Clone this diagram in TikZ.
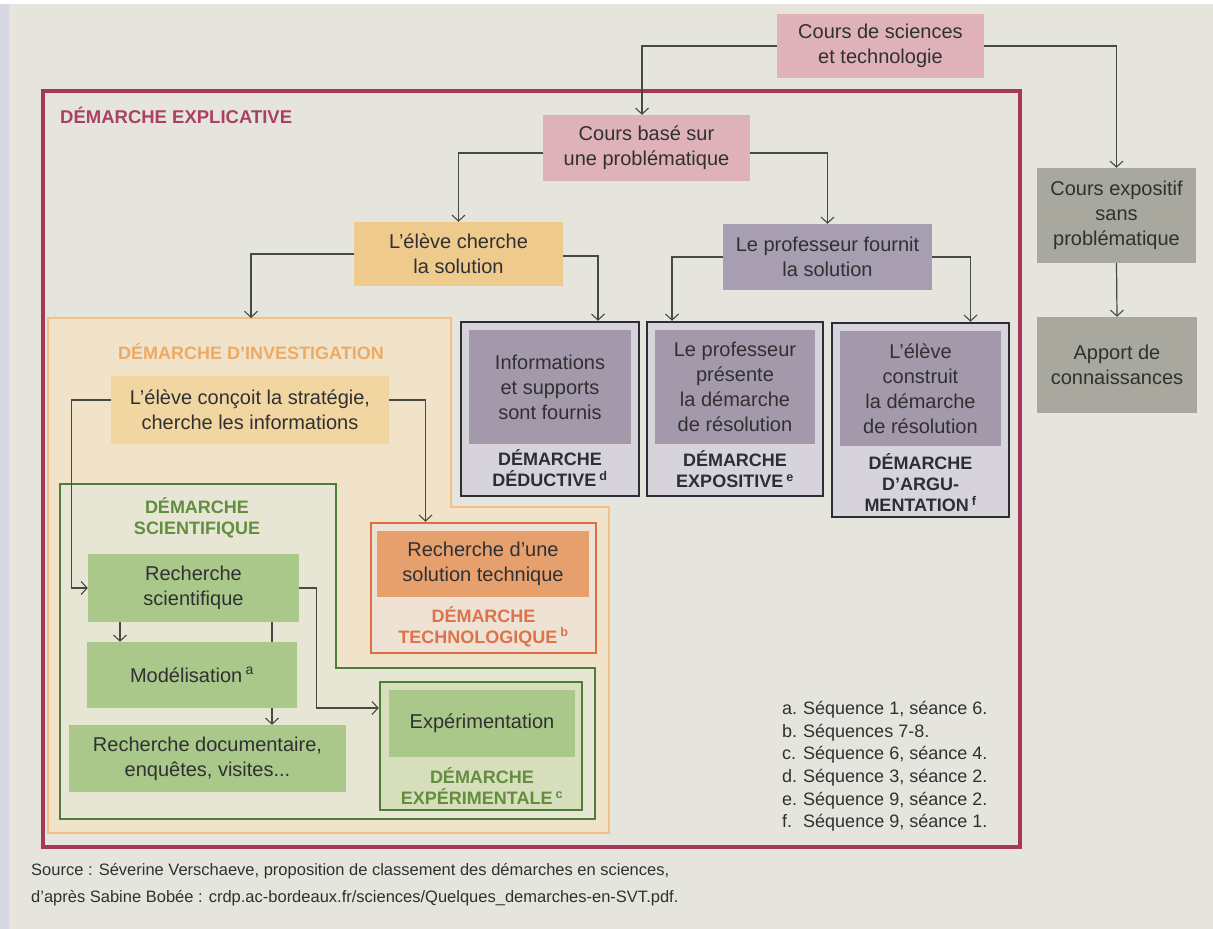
\documentclass[tikz,border=0pt]{standalone}
\usepackage{fontspec}
\setmainfont{Liberation Sans}
\usetikzlibrary{arrows.meta}
\definecolor{paper}{RGB}{230,229,221}
\definecolor{leftstrip}{RGB}{214,217,228}
\definecolor{crimson}{RGB}{165,55,90}
\definecolor{crimsontxt}{RGB}{170,65,100}
\definecolor{pinkbox}{RGB}{222,178,184}
\definecolor{graybox}{RGB}{168,168,158}
\definecolor{yellbox}{RGB}{238,202,140}
\definecolor{yellbox2}{RGB}{242,214,162}
\definecolor{invfill}{RGB}{241,227,202}
\definecolor{invline}{RGB}{242,192,132}
\definecolor{invtxt}{RGB}{236,170,100}
\definecolor{purpbox}{RGB}{163,153,170}
\definecolor{purpbox2}{RGB}{168,158,178}
\definecolor{lavfill}{RGB}{214,211,218}
\definecolor{darkline}{RGB}{45,45,55}
\definecolor{greenbox}{RGB}{170,200,138}
\definecolor{greenline}{RGB}{78,125,55}
\definecolor{greentxt}{RGB}{98,142,62}
\definecolor{scifill}{RGB}{231,230,213}
\definecolor{expfill}{RGB}{215,222,188}
\definecolor{techline}{RGB}{222,110,70}
\definecolor{techfill}{RGB}{238,226,212}
\definecolor{techbox}{RGB}{230,160,110}
\definecolor{techtxt}{RGB}{222,115,75}
\definecolor{txt}{RGB}{48,48,50}
\definecolor{linec}{RGB}{72,72,68}
\newcommand\bxfont{\fontsize{20}{25}\selectfont}
\newcommand\lblfont{\bfseries\fontsize{18}{21}\selectfont}
\newcommand\sups[1]{\,\textsuperscript{#1}}
\tikzset{
  arr/.style={draw=linec, line width=1.2pt, -{Straight Barb[length=6pt,width=13pt,line width=1.1pt]}},
  bx/.style={rectangle, inner sep=0pt, align=center, text=txt, font=\bxfont},
  lbl/.style={inner sep=0pt, align=center, font=\lblfont},
  outerbox/.style={rectangle, inner sep=0pt, draw=darkline, line width=2.5pt, fill=lavfill},
}
\begin{document}
\begin{tikzpicture}[x=1pt,y=-1pt]
\useasboundingbox (0,0) rectangle (1213,929);
\fill[paper] (0,0) rectangle (1213,929);
\fill[leftstrip] (0,0) rectangle (9,929);
\fill[white] (0,0) rectangle (1213,4);

% main explicative frame
\draw[crimson, line width=4pt] (43,91) rectangle (1020,847);
\node[anchor=west, lbl, text=crimsontxt, font=\bfseries\fontsize{18.5}{21}\selectfont] (explic) at (60,115) {DÉMARCHE EXPLICATIVE};

% investigation frame (L-shape)
\draw[invline, fill=invfill, line width=2pt] (48,318) -- (451,318) -- (451,507) -- (609,507) -- (609,833) -- (48,833) -- cycle;
\node[lbl, text=invtxt] (invlbl) at (251,352) {DÉMARCHE D'INVESTIGATION};
\coordinate (invtop) at (251,318);

% scientific frame (L-shape)
\draw[greenline, fill=scifill, line width=2.5pt] (60,484) -- (336,484) -- (336,668) -- (595,668) -- (595,819) -- (60,819) -- cycle;
\node[lbl, text=greentxt] (scilbl) at (197,517.5) {DÉMARCHE\\SCIENTIFIQUE};

% top boxes
\node[bx, fill=pinkbox, minimum width=207pt, minimum height=64pt] (top) at (880.5,46) {Cours de sciences\\et technologie};
\node[bx, fill=pinkbox, minimum width=207pt, minimum height=66pt] (cb) at (646.5,148) {Cours basé sur\\une problématique};
\node[bx, fill=graybox, minimum width=159pt, minimum height=95pt] (ce) at (1116.5,215.5) {Cours expositif\\sans\\problématique};
\node[bx, fill=graybox, minimum width=160pt, minimum height=96pt] (ap) at (1117,365) {Apport de\\connaissances};
\node[bx, fill=yellbox, minimum width=209pt, minimum height=64pt] (ec) at (458.5,254) {L'élève cherche\\la solution};
\node[bx, fill=purpbox2, minimum width=209pt, minimum height=66pt] (pf) at (827.5,257) {Le professeur fournit\\la solution};

% three demarche boxes
\node[outerbox, minimum width=178pt, minimum height=174pt] (ded) at (550,409) {};
\node[bx, fill=purpbox, minimum width=162pt, minimum height=114pt] (dedi) at (550,387) {Informations\\et supports\\sont fournis};
\node[lbl, text=darkline] (dedl) at (550,468.5) {DÉMARCHE\\DÉDUCTIVE\sups{d}};

\node[outerbox, minimum width=176pt, minimum height=174pt] (expo) at (735,409) {};
\node[bx, fill=purpbox, minimum width=160pt, minimum height=114pt] (expoi) at (735,387) {Le professeur\\présente\\la démarche\\de résolution};
\node[lbl, text=darkline] (expol) at (735,469.5) {DÉMARCHE\\EXPOSITIVE\sups{e}};

\node[outerbox, minimum width=177pt, minimum height=194pt] (arg) at (920.5,420) {};
\node[bx, fill=purpbox, minimum width=161pt, minimum height=115pt] (argi) at (920.5,388.5) {L'élève\\construit\\la démarche\\de résolution};
\node[lbl, text=darkline] (argl) at (920.5,482.5) {DÉMARCHE\\D'ARGU-\\MENTATION\sups{f}};

% investigation content
\node[bx, fill=yellbox2, minimum width=278pt, minimum height=68pt] (co) at (250,410) {L'élève conçoit la stratégie,\\cherche les informations};

% techno frame
\node[rectangle, inner sep=0pt, draw=techline, line width=2.5pt, fill=techfill, minimum width=225pt, minimum height=130pt] (tf) at (483.5,588) {};
\node[bx, fill=techbox, minimum width=212pt, minimum height=66pt] (tfi) at (483,564) {Recherche d'une\\solution technique};
\node[lbl, text=techtxt] (tfl) at (483.5,626.5) {DÉMARCHE\\TECHNOLOGIQUE\sups{b}};

% experimental frame
\node[rectangle, inner sep=0pt, draw=greenline, line width=2.5pt, fill=expfill, minimum width=202pt, minimum height=128pt] (exf) at (481,746) {};
\node[bx, fill=greenbox, minimum width=186pt, minimum height=67pt] (exi) at (482,723.5) {Expérimentation};
\node[lbl, text=greentxt] (exl) at (482,786) {DÉMARCHE\\EXPÉRIMENTALE\sups{c}};

% scientific content
\node[bx, fill=greenbox, minimum width=211pt, minimum height=68pt] (rs) at (193.5,588) {Recherche\\scientifique};
\node[bx, fill=greenbox, minimum width=277pt, minimum height=67pt] (rd) at (207.5,758.5) {Recherche documentaire,\\enquêtes, visites...};
\draw[arr] ([xshift=78.5pt]rs.south) -- ([xshift=78.5pt]rs.south |- rd.north);
\node[bx, fill=greenbox, minimum width=210pt, minimum height=66pt] (mo) at (192,675) {Modélisation\sups{a}};
\draw[arr] ([xshift=-73.5pt]rs.south) -- ([xshift=-73.5pt]rs.south |- mo.north);

% connectors
\draw[arr] (top.west) -| ([xshift=-4.5pt]cb.north);
\draw[arr] (top.east) -| (ce.north);
\draw[arr] (ce.south) -- (ap.north);
\draw[arr] ([yshift=-5pt]cb.west) -| (ec.north);
\draw[arr] ([yshift=-5pt]cb.east) -| (pf.north);
\draw[arr] (ec.west) -| (invtop);
\draw[arr] ([yshift=-2pt]ec.east) -| ([xshift=48pt]ded.north);
\draw[arr] (pf.west) -| ([xshift=-63pt]expo.north);
\draw[arr] (pf.east) -| ([xshift=50pt]arg.north);
\draw[arr] ([yshift=10pt]co.west) -- ++(-39,0) |- (rs.west);
\draw[arr] ([yshift=10pt]co.east) -| ([xshift=-58pt]tf.north);
\draw[arr] (rs.east) -- ++(17,0) |- ([yshift=38pt]exf.west);

% legend
\node[anchor=west, inner sep=0pt, align=left, text=txt, font=\fontsize{18}{22.6}\selectfont] (legend) at (782,766.5)
{\makebox[21pt][l]{a.}Séquence 1, séance 6.\\
 \makebox[21pt][l]{b.}Séquences 7-8.\\
 \makebox[21pt][l]{c.}Séquence 6, séance 4.\\
 \makebox[21pt][l]{d.}Séquence 3, séance 2.\\
 \makebox[21pt][l]{e.}Séquence 9, séance 2.\\
 \makebox[21pt][l]{f.}Séquence 9, séance 1.};

% source
\node[anchor=north west, inner sep=0pt, align=left, text=txt, font=\fontsize{16.5}{27}\selectfont] (source) at (31,863)
{Source : Séverine Verschaeve, proposition de classement des démarches en sciences,\\
d'après Sabine Bobée : crdp.ac-bordeaux.fr/sciences/Quelques\_demarches-en-SVT.pdf.};
\end{tikzpicture}
\end{document}
